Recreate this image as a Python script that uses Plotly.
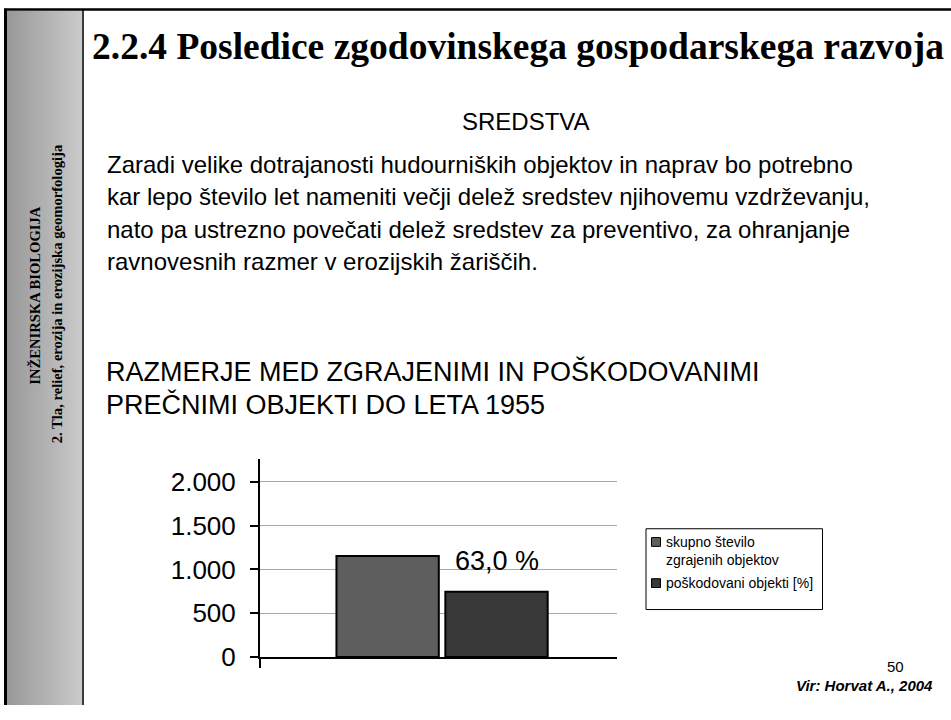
import plotly.graph_objects as go

# ---------------- data ----------------
CATEGORIES = ["do leta 1955"]
SERIES_NAMES = ["skupno število<br>zgrajenih objektov", "poškodovani objekti [%]"]
SERIES_VALUES = [[1155], [745]]
SERIES_COLORS = ["#5e5e5e", "#383838"]
DAMAGE_LABEL = "63,0 %"
Y_TICKS = [0, 500, 1000, 1500, 2000]
Y_TICK_LABELS = ["0", "500", "1.000", "1.500", "2.000"]

TITLE = "2.2.4 Posledice zgodovinskega gospodarskega razvoja"
SUBTITLE = "SREDSTVA"
PARAGRAPH = [
    "Zaradi velike dotrajanosti hudourniških objektov in naprav bo potrebno",
    "kar lepo število let nameniti večji delež sredstev njihovemu vzdrževanju,",
    "nato pa ustrezno povečati delež sredstev za preventivo, za ohranjanje",
    "ravnovesnih razmer v erozijskih žariščih.",
]
CHART_HEADING = ["RAZMERJE MED ZGRAJENIMI IN POŠKODOVANIMI", "PREČNIMI OBJEKTI DO LETA 1955"]
SIDEBAR = ["INŽENIRSKA BIOLOGIJA", "2. Tla, relief, erozija in erozijska geomorfologija"]
PAGE_NO = "50"
SOURCE = "Vir: Horvat A., 2004"

W, H = 951, 720
SANS = "Liberation Sans, Arial, sans-serif"
SERIF = "Liberation Serif, Times New Roman, serif"
X_RANGE = [-0.51, 0.49]


def px(x):
    return x / W


def py(y):
    return 1 - y / H


fig = go.Figure()
xs = list(range(len(CATEGORIES)))
for name, vals, col in zip(SERIES_NAMES, SERIES_VALUES, SERIES_COLORS):
    fig.add_trace(go.Bar(
        x=xs, y=vals, name=name, showlegend=False,
        marker=dict(color=col, line=dict(color="black", width=2)),
        hoverinfo="y",
    ))

shapes = []
# sidebar gradient
g0, g1 = 7, 82
for i in range(g0, g1):
    t = (i - g0) / (g1 - g0 - 1)
    c = int(round(152 + t * (202 - 152)))
    shapes.append(dict(type="rect", xref="paper", yref="paper",
                       x0=px(i), x1=px(i + 1.2), y0=0, y1=py(11),
                       fillcolor=f"rgb({c},{c},{c})", line=dict(width=0), layer="below"))
shapes.append(dict(type="rect", xref="paper", yref="paper", x0=px(4), x1=px(7), y0=0, y1=py(9),
                   fillcolor="black", line=dict(width=0)))
shapes.append(dict(type="rect", xref="paper", yref="paper", x0=px(82), x1=px(84), y0=0, y1=py(10),
                   fillcolor="#3a3a3a", line=dict(width=0)))
shapes.append(dict(type="rect", xref="paper", yref="paper", x0=px(4), x1=1, y0=py(11), y1=py(8.5),
                   fillcolor="black", line=dict(width=0)))
# legend box
shapes.append(dict(type="rect", xref="paper", yref="paper", x0=px(646), x1=px(822.5),
                   y0=py(622.5), y1=py(540), fillcolor="white", line=dict(color="black", width=1)))
leg_y = [553.5, 595.5]
for cy, col in zip(leg_y, SERIES_COLORS):
    shapes.append(dict(type="rect", xref="paper", yref="paper", x0=px(651.5), x1=px(660.5),
                       y0=py(cy + 4.5), y1=py(cy - 4.5), fillcolor=col,
                       line=dict(color="black", width=1)))

ann = []
ann.append(dict(text=f"<b>{TITLE}</b>", x=px(90), y=py(47), xanchor="left", yanchor="middle",
                font=dict(family=SERIF, size=37.5, color="black")))
ann.append(dict(text=SUBTITLE, x=px(526), y=py(124), xanchor="center", yanchor="middle",
                font=dict(family=SANS, size=24, color="black")))
for i, line in enumerate(PARAGRAPH):
    ann.append(dict(text=line, x=px(105), y=py(168 + 33 * i), xanchor="left", yanchor="middle",
                    font=dict(family=SANS, size=24, color="black")))
for i, line in enumerate(CHART_HEADING):
    ann.append(dict(text=line, x=px(104), y=py(379 + 34 * i), xanchor="left", yanchor="middle",
                    font=dict(family=SANS, size=27, color="black")))
ann.append(dict(text=f"<b>{SIDEBAR[0]}</b>", x=px(35), y=py(302), textangle=-90,
                xanchor="center", yanchor="middle", font=dict(family=SERIF, size=14.6, color="black")))
ann.append(dict(text=f"<b>{SIDEBAR[1]}</b>", x=px(56.5), y=py(300), textangle=-90,
                xanchor="center", yanchor="middle", font=dict(family=SERIF, size=14.6, color="black")))
# legend text
ann.append(dict(text=SERIES_NAMES[0], x=px(664), y=py(562.5), xanchor="left", yanchor="middle",
                align="left", font=dict(family=SANS, size=14, color="black")))
ann.append(dict(text=SERIES_NAMES[1], x=px(664), y=py(595.5), xanchor="left", yanchor="middle",
                align="left", font=dict(family=SANS, size=14, color="black")))
# data label
ann.append(dict(text=DAMAGE_LABEL, xref="x", yref="y", x=xs[0], y=SERIES_VALUES[1][0],
                xanchor="center", yanchor="bottom", xshift=55, yshift=14,
                font=dict(family=SANS, size=27, color="black")))
ann.append(dict(text=PAGE_NO, x=px(906), y=py(691), xanchor="right", yanchor="bottom",
                font=dict(family=SANS, size=15, color="black")))
ann.append(dict(text=f"<b><i>{SOURCE}</i></b>", x=px(935), y=py(689), xanchor="right",
                yanchor="top", font=dict(family=SANS, size=15, color="black")))
for a in ann:
    a.setdefault("xref", "paper")
    a.setdefault("yref", "paper")
    a["showarrow"] = False

fig.update_layout(
    width=W, height=H, margin=dict(l=0, r=0, t=0, b=0),
    paper_bgcolor="white", plot_bgcolor="white",
    barmode="group", bargap=0.39, bargroupgap=0.06,
    shapes=shapes, annotations=ann, showlegend=False,
    xaxis=dict(domain=[px(260), px(617)], range=X_RANGE, showline=True, linecolor="black",
               linewidth=2, tickmode="array", tickvals=[X_RANGE[0]], ticktext=[""], ticks="outside",
               ticklen=9, tickwidth=2, tickcolor="black", showgrid=False, zeroline=False,
               fixedrange=True),
    yaxis=dict(domain=[py(671), py(469)], range=[0, 2260], tickmode="array", tickvals=Y_TICKS,
               ticktext=Y_TICK_LABELS, ticks="outside", ticklen=8, tickwidth=2,
               tickcolor="black", showline=True, linecolor="black", linewidth=2,
               gridcolor="#a8a8a8", gridwidth=1, zeroline=False, ticklabelstandoff=9,
               tickfont=dict(family=SANS, size=26, color="black"), fixedrange=True),
)

fig.write_html(
    "out.html",
    config={"displayModeBar": False},
    post_script="document.body.style.margin='0';document.body.style.padding='0';"
                "document.documentElement.style.overflow='hidden';",
)
